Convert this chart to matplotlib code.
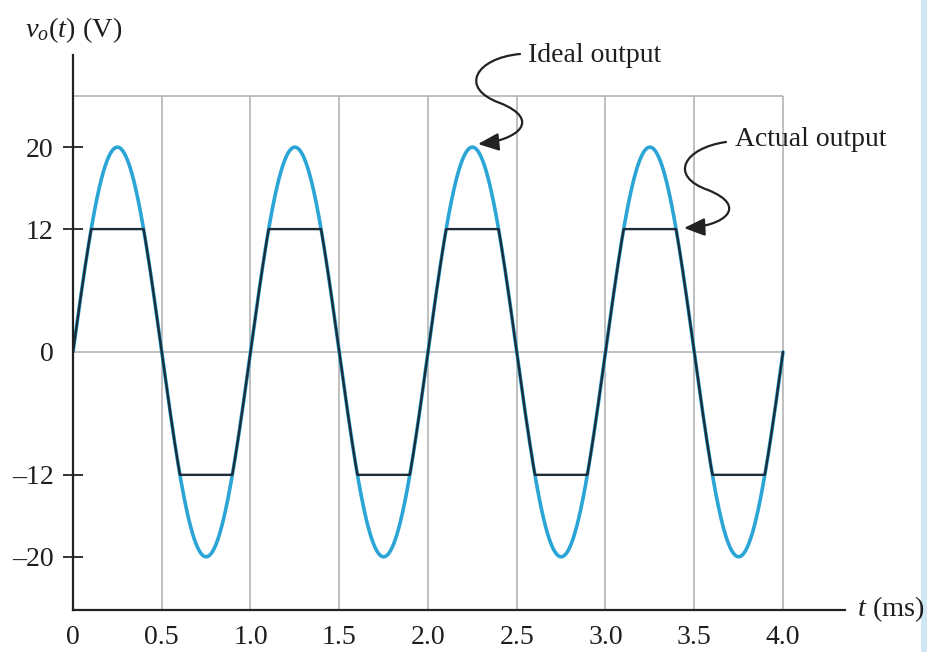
import numpy as np
import matplotlib
matplotlib.use('Agg')
import matplotlib.pyplot as plt
from matplotlib.path import Path
from matplotlib.patches import FancyArrowPatch, Rectangle

# ---- data ----
period_ms = 1.0
t_end_ms = 4.0
ideal_peak_v = 20.0
clip_level_v = 12.0
x_ticks = [0, 0.5, 1.0, 1.5, 2.0, 2.5, 3.0, 3.5, 4.0]
x_tick_labels = ['0', '0.5', '1.0', '1.5', '2.0', '2.5', '3.0', '3.5', '4.0']
y_ticks = [20, 12, 0, -12, -20]
y_tick_labels = ['20', '12', '0', '\u201312', '\u201320']
grid_top_v = 25
ideal_label = 'Ideal output'
actual_label = 'Actual output'

# ---- style ----
plt.rcParams['font.family'] = ['Liberation Serif', 'DejaVu Serif']
plt.rcParams['mathtext.fontset'] = 'custom'
plt.rcParams['mathtext.rm'] = 'Liberation Serif'
plt.rcParams['mathtext.it'] = 'Liberation Serif:italic'

W, H = 928, 652
fig = plt.figure(figsize=(W / 100, H / 100), dpi=100)
x_end = (845 - 73) / 177.5
ax = fig.add_axes([73 / W, 1 - 610 / H, (845 - 73) / W, 555 / H])
ax.set_xlim(0, x_end)
ax.set_ylim(-25.2, 29.0)

text_color = '#1e1e1e'
ideal_color = '#2aa5d5'
actual_color = '#1c2c38'
grid_color = '#b4b4b4'

# waveform
t = np.linspace(0, t_end_ms, 4001)
ideal = ideal_peak_v * np.sin(2 * np.pi * t / period_ms)
actual = np.clip(ideal, -clip_level_v, clip_level_v)

# frame lines
ax.vlines(x_ticks[1:], -25.2, grid_top_v, color=grid_color, lw=1.2, zorder=1)
ax.hlines([0, grid_top_v], 0, t_end_ms, color=grid_color, lw=1.2, zorder=1)

ax.plot(t, ideal, color=ideal_color, lw=2.6, zorder=3, solid_capstyle='round')
ax.plot(t, actual, color=actual_color, lw=1.7, zorder=4, solid_capstyle='round')

for s in ['top', 'right']:
    ax.spines[s].set_visible(False)
for s in ['left', 'bottom']:
    ax.spines[s].set_color('#222222')
    ax.spines[s].set_linewidth(1.6)
    ax.spines[s].set_zorder(5)

ax.set_yticks(y_ticks)
ax.set_yticklabels(y_tick_labels, fontsize=20, color=text_color)
ax.tick_params(axis='y', direction='inout', length=14, width=1.3, pad=7, color='#222222')
for tk, v in zip(ax.yaxis.get_major_ticks(), y_ticks):
    if v == 0:
        tk.tick1line.set_visible(False)
ax.set_xticks(x_ticks)
ax.set_xticklabels(x_tick_labels, fontsize=20, color=text_color)
ax.tick_params(axis='x', length=0, pad=11)

# axis titles
fig.text(25 / W, 1 - 30 / H, r'$v_o(t)$ (V)', fontsize=20.5, va='center', ha='left', color=text_color)
fig.text(857 / W, 1 - 609 / H, r'$t$ (ms)', fontsize=20.5, va='center', ha='left', color=text_color)

# annotations with S-shaped arrows (figure pixel coordinates)
def fp(x, y):
    return (x / W, 1 - y / H)

fig.text(*fp(528, 55), ideal_label, fontsize=20, va='center', ha='left', color=text_color)
fig.text(*fp(735, 140), actual_label, fontsize=20, va='center', ha='left', color=text_color)

codes = [Path.MOVETO, Path.CURVE4, Path.CURVE4, Path.CURVE4, Path.CURVE4, Path.CURVE4, Path.CURVE4]
p_ideal = [fp(520, 54), fp(476, 58), fp(458, 88), fp(500, 103),
           fp(542, 120), fp(518, 140), fp(478, 144)]
p_actual = [fp(726, 142), fp(684, 148), fp(668, 176), fp(708, 190),
            fp(748, 206), fp(726, 226), fp(684, 228)]
for pts in (p_ideal, p_actual):
    arr = FancyArrowPatch(path=Path(pts, codes), transform=fig.transFigure,
                          arrowstyle='-|>,head_length=0.7,head_width=0.3',
                          mutation_scale=18, lw=1.6, color='#222222')
    fig.add_artist(arr)

# light blue strip at right edge
fig.add_artist(Rectangle((921 / W, 0), 7 / W, 1, transform=fig.transFigure,
                         color='#cfe6f3', lw=0))

fig.savefig('out.png', dpi=100)
